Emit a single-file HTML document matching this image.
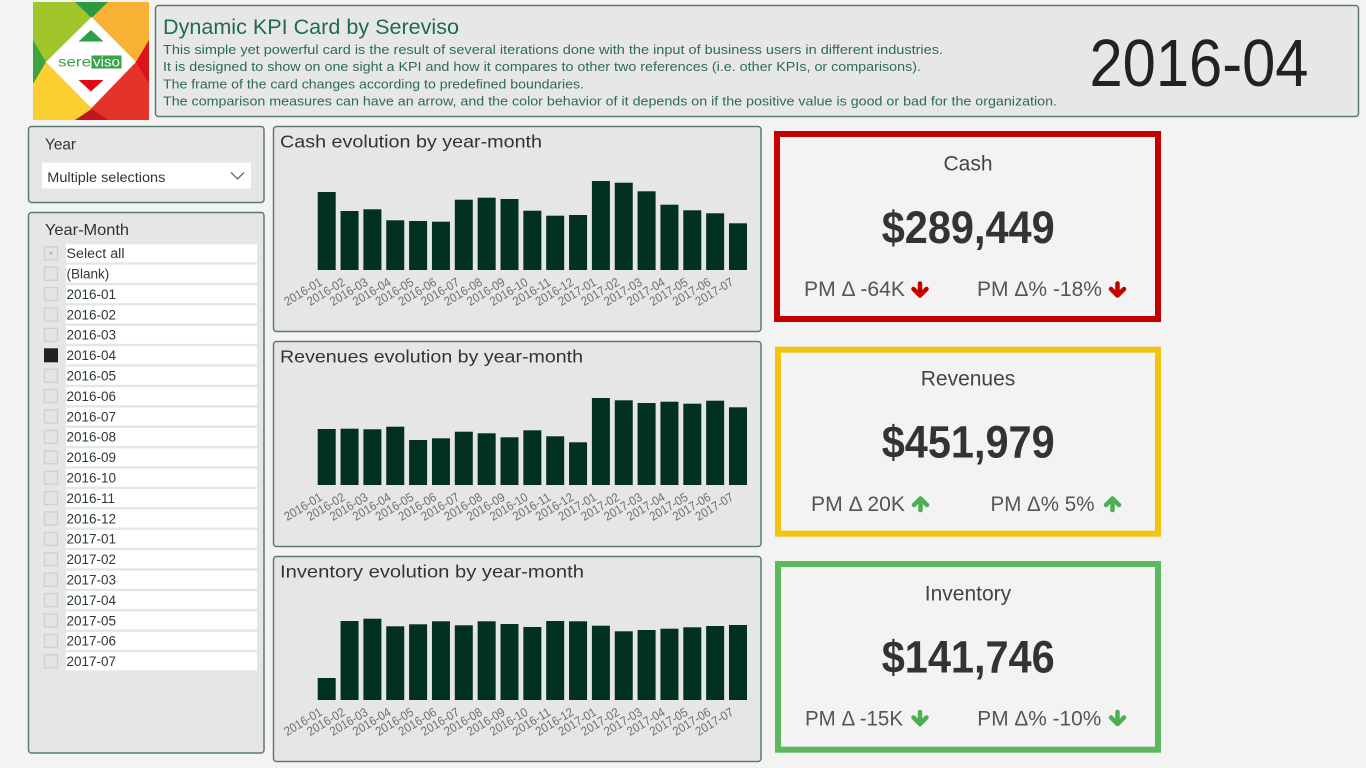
<!DOCTYPE html>
<html><head><meta charset="utf-8"><style>
html,body{margin:0;padding:0;background:#f3f3f3;overflow:hidden;}
svg{display:block;font-family:"Liberation Sans",Arial,sans-serif;}
.lbl{font-size:12.5px;fill:#6e6e6e;}
.bar{fill:#02321f;}
.it{font-size:13.5px;fill:#2b3a35;}
.cb{fill:#e4e4e4;stroke:#cfcfcf;stroke-width:1.3;}
.row{fill:#ffffff;}
</style></head><body>
<svg width="1366" height="768" viewBox="0 0 1366 768" xmlns="http://www.w3.org/2000/svg">
<rect x="0" y="0" width="1366" height="768" fill="#f3f3f3"/>

<!-- Logo -->
<g>
<rect x="33" y="2" width="58" height="59" fill="#a2c52b"/>
<rect x="91" y="2" width="58" height="59" fill="#f8b236"/>
<rect x="33" y="61" width="58" height="59" fill="#fccf30"/>
<rect x="91" y="61" width="58" height="59" fill="#e5332a"/>
<polygon points="75,2 108,2 91.5,18" fill="#2a9a3e"/>
<polygon points="33,40 33,84 46,62" fill="#3ba540"/>
<polygon points="149,40 149,84 136,62" fill="#db141c"/>
<polygon points="75,120 108,120 91.5,109" fill="#c2161e"/>
<polygon points="91.5,17 136,62 91.5,108 46,62" fill="#ffffff"/>
<polygon points="78.5,41.5 103.5,41.5 91,30" fill="#2e9e48"/>
<polygon points="78.5,80 103.5,80 91,91.5" fill="#e30613"/>
<rect x="91.5" y="55.5" width="30" height="13" fill="#3aa24a"/>
<text x="58" y="66.5" font-size="14" fill="#3aa24a" textLength="33" lengthAdjust="spacingAndGlyphs">sere</text>
<text x="93" y="66.5" font-size="14" fill="#ffffff" textLength="27" lengthAdjust="spacingAndGlyphs">viso</text>
</g>

<!-- Header panel -->
<rect x="155.5" y="5.5" width="1203" height="111" rx="3" fill="#e7e7e7" stroke="#5d7b70" stroke-width="1.5"/>
<text x="163" y="34" font-size="21" fill="#1f6b52" textLength="296" lengthAdjust="spacingAndGlyphs">Dynamic KPI Card by Sereviso</text>
<text x="163" y="54" font-size="12.5" fill="#2d6b58" textLength="780" lengthAdjust="spacingAndGlyphs">This simple yet powerful card is the result of several iterations done with the input of business users in different industries.</text>
<text x="163" y="71.2" font-size="12.5" fill="#2d6b58" textLength="758" lengthAdjust="spacingAndGlyphs">It is designed to show on one sight a KPI and how it compares to other two  references (i.e. other KPIs, or comparisons).</text>
<text x="163" y="88.4" font-size="12.5" fill="#2d6b58" textLength="421" lengthAdjust="spacingAndGlyphs">The frame of the card changes according to predefined boundaries.</text>
<text x="163" y="105.6" font-size="12.5" fill="#2d6b58" textLength="894" lengthAdjust="spacingAndGlyphs">The comparison measures can have an arrow, and the color behavior of it depends on if the positive value is good or bad for the organization.</text>
<text x="1089.5" y="86" font-size="67" fill="#222222" textLength="219" lengthAdjust="spacingAndGlyphs">2016-04</text>

<!-- Year slicer -->
<rect x="28.5" y="126.5" width="235.5" height="76" rx="3" fill="#e6e6e6" stroke="#5d7b70" stroke-width="1.5"/>
<text x="45" y="149.5" font-size="16" fill="#333" textLength="31" lengthAdjust="spacingAndGlyphs">Year</text>
<rect x="42" y="162.5" width="209" height="26" fill="#ffffff"/>
<text x="47.3" y="182" font-size="13.5" fill="#333" textLength="118" lengthAdjust="spacingAndGlyphs">Multiple selections</text>
<polyline points="231,172.5 237.5,179 244,172.5" fill="none" stroke="#666" stroke-width="1.3"/>

<!-- Year-Month slicer -->
<rect x="28.5" y="212.5" width="235.5" height="540.5" rx="3" fill="#e6e6e6" stroke="#5d7b70" stroke-width="1.5"/>
<text x="45" y="235" font-size="16" fill="#333" textLength="84" lengthAdjust="spacingAndGlyphs">Year-Month</text>
<g>
<rect class="row" x="66" y="244.3" width="191" height="18"/><rect class="cb" x="44.5" y="246.8" width="13" height="13"/><rect x="49.5" y="251.8" width="3" height="3" fill="#bdbdbd"/><text class="it" x="66.5" y="258.1" textLength="58" lengthAdjust="spacingAndGlyphs">Select all</text>
<rect class="row" x="66" y="264.7" width="191" height="18"/><rect class="cb" x="44.5" y="267.2" width="13" height="13"/><text class="it" x="66.5" y="278.5">(Blank)</text>
<rect class="row" x="66" y="285.1" width="191" height="18"/><rect class="cb" x="44.5" y="287.6" width="13" height="13"/><text class="it" x="66.5" y="298.9">2016-01</text>
<rect class="row" x="66" y="305.5" width="191" height="18"/><rect class="cb" x="44.5" y="308" width="13" height="13"/><text class="it" x="66.5" y="319.3">2016-02</text>
<rect class="row" x="66" y="325.9" width="191" height="18"/><rect class="cb" x="44.5" y="328.4" width="13" height="13"/><text class="it" x="66.5" y="339.7">2016-03</text>
<rect class="row" x="66" y="346.3" width="191" height="18"/><rect x="44" y="348.3" width="14" height="14" fill="#222222"/><text class="it" x="66.5" y="360.1">2016-04</text>
<rect class="row" x="66" y="366.7" width="191" height="18"/><rect class="cb" x="44.5" y="369.2" width="13" height="13"/><text class="it" x="66.5" y="380.5">2016-05</text>
<rect class="row" x="66" y="387.1" width="191" height="18"/><rect class="cb" x="44.5" y="389.6" width="13" height="13"/><text class="it" x="66.5" y="400.9">2016-06</text>
<rect class="row" x="66" y="407.5" width="191" height="18"/><rect class="cb" x="44.5" y="410" width="13" height="13"/><text class="it" x="66.5" y="421.3">2016-07</text>
<rect class="row" x="66" y="427.9" width="191" height="18"/><rect class="cb" x="44.5" y="430.4" width="13" height="13"/><text class="it" x="66.5" y="441.7">2016-08</text>
<rect class="row" x="66" y="448.3" width="191" height="18"/><rect class="cb" x="44.5" y="450.8" width="13" height="13"/><text class="it" x="66.5" y="462.1">2016-09</text>
<rect class="row" x="66" y="468.7" width="191" height="18"/><rect class="cb" x="44.5" y="471.2" width="13" height="13"/><text class="it" x="66.5" y="482.5">2016-10</text>
<rect class="row" x="66" y="489.1" width="191" height="18"/><rect class="cb" x="44.5" y="491.6" width="13" height="13"/><text class="it" x="66.5" y="502.9">2016-11</text>
<rect class="row" x="66" y="509.5" width="191" height="18"/><rect class="cb" x="44.5" y="512" width="13" height="13"/><text class="it" x="66.5" y="523.3">2016-12</text>
<rect class="row" x="66" y="529.9" width="191" height="18"/><rect class="cb" x="44.5" y="532.4" width="13" height="13"/><text class="it" x="66.5" y="543.7">2017-01</text>
<rect class="row" x="66" y="550.3" width="191" height="18"/><rect class="cb" x="44.5" y="552.8" width="13" height="13"/><text class="it" x="66.5" y="564.1">2017-02</text>
<rect class="row" x="66" y="570.7" width="191" height="18"/><rect class="cb" x="44.5" y="573.2" width="13" height="13"/><text class="it" x="66.5" y="584.5">2017-03</text>
<rect class="row" x="66" y="591.1" width="191" height="18"/><rect class="cb" x="44.5" y="593.6" width="13" height="13"/><text class="it" x="66.5" y="604.9">2017-04</text>
<rect class="row" x="66" y="611.5" width="191" height="18"/><rect class="cb" x="44.5" y="614" width="13" height="13"/><text class="it" x="66.5" y="625.3">2017-05</text>
<rect class="row" x="66" y="631.9" width="191" height="18"/><rect class="cb" x="44.5" y="634.4" width="13" height="13"/><text class="it" x="66.5" y="645.7">2017-06</text>
<rect class="row" x="66" y="652.3" width="191" height="18"/><rect class="cb" x="44.5" y="654.8" width="13" height="13"/><text class="it" x="66.5" y="666.1">2017-07</text>
</g>

<!-- Cash chart -->
<rect x="273.5" y="126.5" width="487.5" height="205" rx="3" fill="#e6e6e6" stroke="#5d7b70" stroke-width="1.5"/>
<text x="280" y="147.5" font-size="17.5" fill="#333" textLength="262" lengthAdjust="spacingAndGlyphs">Cash evolution by year-month</text>
<g class="bar">
<rect x="317.7" y="192" width="18" height="78"/>
<rect x="340.55" y="211" width="18" height="59"/>
<rect x="363.4" y="209.3" width="18" height="60.7"/>
<rect x="386.25" y="220.3" width="18" height="49.7"/>
<rect x="409.1" y="221" width="18" height="49"/>
<rect x="431.95" y="221.7" width="18" height="48.3"/>
<rect x="454.8" y="199.7" width="18" height="70.3"/>
<rect x="477.65" y="197.7" width="18" height="72.3"/>
<rect x="500.5" y="199" width="18" height="71"/>
<rect x="523.35" y="210.7" width="18" height="59.3"/>
<rect x="546.2" y="215.7" width="18" height="54.3"/>
<rect x="569.05" y="215" width="18" height="55"/>
<rect x="591.9" y="181" width="18" height="89"/>
<rect x="614.75" y="182.7" width="18" height="87.3"/>
<rect x="637.6" y="191.3" width="18" height="78.7"/>
<rect x="660.45" y="204.7" width="18" height="65.3"/>
<rect x="683.3" y="210.3" width="18" height="59.7"/>
<rect x="706.15" y="213.3" width="18" height="56.7"/>
<rect x="729" y="223.3" width="18" height="46.7"/>
</g>
<g class="lbl" text-anchor="end">
<text x="323.2" y="284.5" textLength="42" lengthAdjust="spacingAndGlyphs" transform="rotate(-31 323.2 284.5)">2016-01</text>
<text x="346.1" y="284.5" textLength="42" lengthAdjust="spacingAndGlyphs" transform="rotate(-31 346.1 284.5)">2016-02</text>
<text x="368.9" y="284.5" textLength="42" lengthAdjust="spacingAndGlyphs" transform="rotate(-31 368.9 284.5)">2016-03</text>
<text x="391.8" y="284.5" textLength="42" lengthAdjust="spacingAndGlyphs" transform="rotate(-31 391.8 284.5)">2016-04</text>
<text x="414.6" y="284.5" textLength="42" lengthAdjust="spacingAndGlyphs" transform="rotate(-31 414.6 284.5)">2016-05</text>
<text x="437.5" y="284.5" textLength="42" lengthAdjust="spacingAndGlyphs" transform="rotate(-31 437.5 284.5)">2016-06</text>
<text x="460.3" y="284.5" textLength="42" lengthAdjust="spacingAndGlyphs" transform="rotate(-31 460.3 284.5)">2016-07</text>
<text x="483.2" y="284.5" textLength="42" lengthAdjust="spacingAndGlyphs" transform="rotate(-31 483.2 284.5)">2016-08</text>
<text x="506" y="284.5" textLength="42" lengthAdjust="spacingAndGlyphs" transform="rotate(-31 506 284.5)">2016-09</text>
<text x="528.9" y="284.5" textLength="42" lengthAdjust="spacingAndGlyphs" transform="rotate(-31 528.9 284.5)">2016-10</text>
<text x="551.7" y="284.5" textLength="42" lengthAdjust="spacingAndGlyphs" transform="rotate(-31 551.7 284.5)">2016-11</text>
<text x="574.6" y="284.5" textLength="42" lengthAdjust="spacingAndGlyphs" transform="rotate(-31 574.6 284.5)">2016-12</text>
<text x="597.4" y="284.5" textLength="42" lengthAdjust="spacingAndGlyphs" transform="rotate(-31 597.4 284.5)">2017-01</text>
<text x="620.3" y="284.5" textLength="42" lengthAdjust="spacingAndGlyphs" transform="rotate(-31 620.3 284.5)">2017-02</text>
<text x="643.1" y="284.5" textLength="42" lengthAdjust="spacingAndGlyphs" transform="rotate(-31 643.1 284.5)">2017-03</text>
<text x="666" y="284.5" textLength="42" lengthAdjust="spacingAndGlyphs" transform="rotate(-31 666 284.5)">2017-04</text>
<text x="688.8" y="284.5" textLength="42" lengthAdjust="spacingAndGlyphs" transform="rotate(-31 688.8 284.5)">2017-05</text>
<text x="711.7" y="284.5" textLength="42" lengthAdjust="spacingAndGlyphs" transform="rotate(-31 711.7 284.5)">2017-06</text>
<text x="734.5" y="284.5" textLength="42" lengthAdjust="spacingAndGlyphs" transform="rotate(-31 734.5 284.5)">2017-07</text>
</g>

<!-- Revenues chart -->
<rect x="273.5" y="341.5" width="487.5" height="205" rx="3" fill="#e6e6e6" stroke="#5d7b70" stroke-width="1.5"/>
<text x="280" y="362.5" font-size="17.5" fill="#333" textLength="303" lengthAdjust="spacingAndGlyphs">Revenues evolution by year-month</text>
<g class="bar">
<rect x="317.7" y="429" width="18" height="56"/>
<rect x="340.55" y="428.7" width="18" height="56.3"/>
<rect x="363.4" y="429.3" width="18" height="55.7"/>
<rect x="386.25" y="426.7" width="18" height="58.3"/>
<rect x="409.1" y="440" width="18" height="45"/>
<rect x="431.95" y="438.3" width="18" height="46.7"/>
<rect x="454.8" y="431.7" width="18" height="53.3"/>
<rect x="477.65" y="433.3" width="18" height="51.7"/>
<rect x="500.5" y="437.3" width="18" height="47.7"/>
<rect x="523.35" y="430.3" width="18" height="54.7"/>
<rect x="546.2" y="436.3" width="18" height="48.7"/>
<rect x="569.05" y="442.3" width="18" height="42.7"/>
<rect x="591.9" y="398" width="18" height="87"/>
<rect x="614.75" y="400.3" width="18" height="84.7"/>
<rect x="637.6" y="403" width="18" height="82"/>
<rect x="660.45" y="401.7" width="18" height="83.3"/>
<rect x="683.3" y="403.7" width="18" height="81.3"/>
<rect x="706.15" y="400.7" width="18" height="84.3"/>
<rect x="729" y="407.3" width="18" height="77.7"/>
</g>
<g class="lbl" text-anchor="end">
<text x="323.2" y="499.5" textLength="42" lengthAdjust="spacingAndGlyphs" transform="rotate(-31 323.2 499.5)">2016-01</text>
<text x="346.1" y="499.5" textLength="42" lengthAdjust="spacingAndGlyphs" transform="rotate(-31 346.1 499.5)">2016-02</text>
<text x="368.9" y="499.5" textLength="42" lengthAdjust="spacingAndGlyphs" transform="rotate(-31 368.9 499.5)">2016-03</text>
<text x="391.8" y="499.5" textLength="42" lengthAdjust="spacingAndGlyphs" transform="rotate(-31 391.8 499.5)">2016-04</text>
<text x="414.6" y="499.5" textLength="42" lengthAdjust="spacingAndGlyphs" transform="rotate(-31 414.6 499.5)">2016-05</text>
<text x="437.5" y="499.5" textLength="42" lengthAdjust="spacingAndGlyphs" transform="rotate(-31 437.5 499.5)">2016-06</text>
<text x="460.3" y="499.5" textLength="42" lengthAdjust="spacingAndGlyphs" transform="rotate(-31 460.3 499.5)">2016-07</text>
<text x="483.2" y="499.5" textLength="42" lengthAdjust="spacingAndGlyphs" transform="rotate(-31 483.2 499.5)">2016-08</text>
<text x="506" y="499.5" textLength="42" lengthAdjust="spacingAndGlyphs" transform="rotate(-31 506 499.5)">2016-09</text>
<text x="528.9" y="499.5" textLength="42" lengthAdjust="spacingAndGlyphs" transform="rotate(-31 528.9 499.5)">2016-10</text>
<text x="551.7" y="499.5" textLength="42" lengthAdjust="spacingAndGlyphs" transform="rotate(-31 551.7 499.5)">2016-11</text>
<text x="574.6" y="499.5" textLength="42" lengthAdjust="spacingAndGlyphs" transform="rotate(-31 574.6 499.5)">2016-12</text>
<text x="597.4" y="499.5" textLength="42" lengthAdjust="spacingAndGlyphs" transform="rotate(-31 597.4 499.5)">2017-01</text>
<text x="620.3" y="499.5" textLength="42" lengthAdjust="spacingAndGlyphs" transform="rotate(-31 620.3 499.5)">2017-02</text>
<text x="643.1" y="499.5" textLength="42" lengthAdjust="spacingAndGlyphs" transform="rotate(-31 643.1 499.5)">2017-03</text>
<text x="666" y="499.5" textLength="42" lengthAdjust="spacingAndGlyphs" transform="rotate(-31 666 499.5)">2017-04</text>
<text x="688.8" y="499.5" textLength="42" lengthAdjust="spacingAndGlyphs" transform="rotate(-31 688.8 499.5)">2017-05</text>
<text x="711.7" y="499.5" textLength="42" lengthAdjust="spacingAndGlyphs" transform="rotate(-31 711.7 499.5)">2017-06</text>
<text x="734.5" y="499.5" textLength="42" lengthAdjust="spacingAndGlyphs" transform="rotate(-31 734.5 499.5)">2017-07</text>
</g>

<!-- Inventory chart -->
<rect x="273.5" y="556.5" width="487.5" height="205" rx="3" fill="#e6e6e6" stroke="#5d7b70" stroke-width="1.5"/>
<text x="280" y="577.5" font-size="17.5" fill="#333" textLength="304" lengthAdjust="spacingAndGlyphs">Inventory evolution by year-month</text>
<g class="bar">
<rect x="317.7" y="678" width="18" height="22"/>
<rect x="340.55" y="621" width="18" height="79"/>
<rect x="363.4" y="618.7" width="18" height="81.3"/>
<rect x="386.25" y="626.3" width="18" height="73.7"/>
<rect x="409.1" y="624.3" width="18" height="75.7"/>
<rect x="431.95" y="621.3" width="18" height="78.7"/>
<rect x="454.8" y="625.3" width="18" height="74.7"/>
<rect x="477.65" y="621.3" width="18" height="78.7"/>
<rect x="500.5" y="624" width="18" height="76"/>
<rect x="523.35" y="627" width="18" height="73"/>
<rect x="546.2" y="621" width="18" height="79"/>
<rect x="569.05" y="621.3" width="18" height="78.7"/>
<rect x="591.9" y="625.7" width="18" height="74.3"/>
<rect x="614.75" y="631.3" width="18" height="68.7"/>
<rect x="637.6" y="630" width="18" height="70"/>
<rect x="660.45" y="628.7" width="18" height="71.3"/>
<rect x="683.3" y="627.3" width="18" height="72.7"/>
<rect x="706.15" y="626" width="18" height="74"/>
<rect x="729" y="625" width="18" height="75"/>
</g>
<g class="lbl" text-anchor="end">
<text x="323.2" y="714.5" textLength="42" lengthAdjust="spacingAndGlyphs" transform="rotate(-31 323.2 714.5)">2016-01</text>
<text x="346.1" y="714.5" textLength="42" lengthAdjust="spacingAndGlyphs" transform="rotate(-31 346.1 714.5)">2016-02</text>
<text x="368.9" y="714.5" textLength="42" lengthAdjust="spacingAndGlyphs" transform="rotate(-31 368.9 714.5)">2016-03</text>
<text x="391.8" y="714.5" textLength="42" lengthAdjust="spacingAndGlyphs" transform="rotate(-31 391.8 714.5)">2016-04</text>
<text x="414.6" y="714.5" textLength="42" lengthAdjust="spacingAndGlyphs" transform="rotate(-31 414.6 714.5)">2016-05</text>
<text x="437.5" y="714.5" textLength="42" lengthAdjust="spacingAndGlyphs" transform="rotate(-31 437.5 714.5)">2016-06</text>
<text x="460.3" y="714.5" textLength="42" lengthAdjust="spacingAndGlyphs" transform="rotate(-31 460.3 714.5)">2016-07</text>
<text x="483.2" y="714.5" textLength="42" lengthAdjust="spacingAndGlyphs" transform="rotate(-31 483.2 714.5)">2016-08</text>
<text x="506" y="714.5" textLength="42" lengthAdjust="spacingAndGlyphs" transform="rotate(-31 506 714.5)">2016-09</text>
<text x="528.9" y="714.5" textLength="42" lengthAdjust="spacingAndGlyphs" transform="rotate(-31 528.9 714.5)">2016-10</text>
<text x="551.7" y="714.5" textLength="42" lengthAdjust="spacingAndGlyphs" transform="rotate(-31 551.7 714.5)">2016-11</text>
<text x="574.6" y="714.5" textLength="42" lengthAdjust="spacingAndGlyphs" transform="rotate(-31 574.6 714.5)">2016-12</text>
<text x="597.4" y="714.5" textLength="42" lengthAdjust="spacingAndGlyphs" transform="rotate(-31 597.4 714.5)">2017-01</text>
<text x="620.3" y="714.5" textLength="42" lengthAdjust="spacingAndGlyphs" transform="rotate(-31 620.3 714.5)">2017-02</text>
<text x="643.1" y="714.5" textLength="42" lengthAdjust="spacingAndGlyphs" transform="rotate(-31 643.1 714.5)">2017-03</text>
<text x="666" y="714.5" textLength="42" lengthAdjust="spacingAndGlyphs" transform="rotate(-31 666 714.5)">2017-04</text>
<text x="688.8" y="714.5" textLength="42" lengthAdjust="spacingAndGlyphs" transform="rotate(-31 688.8 714.5)">2017-05</text>
<text x="711.7" y="714.5" textLength="42" lengthAdjust="spacingAndGlyphs" transform="rotate(-31 711.7 714.5)">2017-06</text>
<text x="734.5" y="714.5" textLength="42" lengthAdjust="spacingAndGlyphs" transform="rotate(-31 734.5 714.5)">2017-07</text>
</g>

<!-- KPI Card: Cash -->
<rect x="777" y="134" width="381" height="185" fill="#f3f3f3" stroke="#c40000" stroke-width="6"/>
<text x="968" y="170.5" font-size="21" fill="#444" text-anchor="middle">Cash</text>
<text x="881.7" y="243" font-size="45" font-weight="bold" fill="#333" textLength="173" lengthAdjust="spacingAndGlyphs">$289,449</text>
<text x="804" y="296" font-size="21" fill="#555" textLength="101" lengthAdjust="spacingAndGlyphs">PM Δ -64K</text>
<g stroke="#c40000" stroke-width="4.5" stroke-linecap="round" stroke-linejoin="round" fill="none">
<line x1="920" y1="283.5" x2="920" y2="294"/><polyline points="913.5,289 920,295.5 926.5,289"/>
</g>
<text x="977" y="296" font-size="21" fill="#555" textLength="125" lengthAdjust="spacingAndGlyphs">PM Δ% -18%</text>
<g stroke="#c40000" stroke-width="4.5" stroke-linecap="round" stroke-linejoin="round" fill="none">
<line x1="1117.5" y1="283.5" x2="1117.5" y2="294"/><polyline points="1111,289 1117.5,295.5 1124,289"/>
</g>

<!-- KPI Card: Revenues -->
<rect x="778" y="349.7" width="380" height="184" fill="#f3f3f3" stroke="#f2c40f" stroke-width="6"/>
<text x="968" y="385.7" font-size="21" fill="#444" text-anchor="middle">Revenues</text>
<text x="881.7" y="457.5" font-size="45" font-weight="bold" fill="#333" textLength="173" lengthAdjust="spacingAndGlyphs">$451,979</text>
<text x="811" y="511" font-size="21" fill="#555" textLength="94" lengthAdjust="spacingAndGlyphs">PM Δ 20K</text>
<g stroke="#4caf50" stroke-width="4.5" stroke-linecap="round" stroke-linejoin="round" fill="none">
<line x1="920.5" y1="499" x2="920.5" y2="510"/><polyline points="914,505 920.5,498.5 927,505"/>
</g>
<text x="990.5" y="511" font-size="21" fill="#555" textLength="104" lengthAdjust="spacingAndGlyphs">PM Δ% 5%</text>
<g stroke="#4caf50" stroke-width="4.5" stroke-linecap="round" stroke-linejoin="round" fill="none">
<line x1="1112.5" y1="499" x2="1112.5" y2="510"/><polyline points="1106,505 1112.5,498.5 1119,505"/>
</g>

<!-- KPI Card: Inventory -->
<rect x="778" y="564" width="380" height="185.7" fill="#f3f3f3" stroke="#5cb85c" stroke-width="6"/>
<text x="968" y="600.7" font-size="21" fill="#444" text-anchor="middle">Inventory</text>
<text x="881.7" y="672.5" font-size="45" font-weight="bold" fill="#333" textLength="173" lengthAdjust="spacingAndGlyphs">$141,746</text>
<text x="805" y="725.5" font-size="21" fill="#555" textLength="98" lengthAdjust="spacingAndGlyphs">PM Δ -15K</text>
<g stroke="#4caf50" stroke-width="4.5" stroke-linecap="round" stroke-linejoin="round" fill="none">
<line x1="920" y1="712" x2="920" y2="723"/><polyline points="913.5,717.5 920,724 926.5,717.5"/>
</g>
<text x="977.3" y="725.5" font-size="21" fill="#555" textLength="124" lengthAdjust="spacingAndGlyphs">PM Δ% -10%</text>
<g stroke="#4caf50" stroke-width="4.5" stroke-linecap="round" stroke-linejoin="round" fill="none">
<line x1="1117.5" y1="712" x2="1117.5" y2="723"/><polyline points="1111,717.5 1117.5,724 1124,717.5"/>
</g>
</svg>
</body></html>
